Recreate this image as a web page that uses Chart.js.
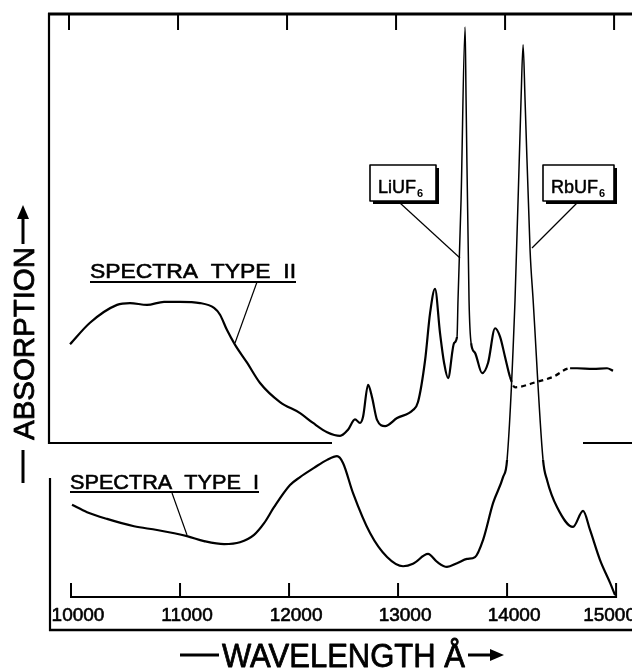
<!DOCTYPE html>
<html>
<head>
<meta charset="utf-8">
<script src="https://cdn.jsdelivr.net/npm/chart.js@4.4.1/dist/chart.umd.min.js"></script>
<style>
  html, body { margin: 0; padding: 0; background: #fff; }
  #marco { width: 632px; height: 668px; }
</style>
</head>
<body>
<div id="marco"><canvas id="espectroChart" width="632" height="668"></canvas></div>
<script>
// Datos: longitud de onda (Å) y absorción (unidades arbitrarias)
var tipoDosLongitud = [9991, 10174, 10422, 10541, 10697, 10853, 11000, 11183, 11312, 11367, 11431, 11505, 11615, 11734, 11917, 12101, 12220, 12349, 12468, 12541, 12605, 12651, 12679, 12725, 12761, 12807, 12881, 12991, 13137, 13183, 13248, 13294, 13339, 13385, 13422, 13459, 13514, 13541, 13550, 13578, 13615, 13624, 13651, 13670, 13706, 13771, 13826, 13890, 13936, 13982, 14027, 14073, 14275, 14422, 14578, 14642, 14789, 14917, 14972];
var tipoDosAbsorcion = [46.3, 49.8, 52.7, 53.0, 52.7, 53.2, 53.2, 53.0, 52.2, 51.1, 48.6, 46.2, 43.3, 40.0, 36.9, 35.1, 33.5, 32.0, 31.4, 32.4, 34.1, 33.5, 34.5, 39.7, 37.7, 34.0, 33.0, 34.3, 35.6, 36.9, 43.7, 51.4, 55.3, 48.1, 43.3, 40.8, 46.5, 47.5, 53.5, 69.8, 97.9, 86.0, 53.5, 46.5, 44.9, 41.6, 43.3, 48.9, 47.5, 44.2, 41.0, 39.3, 40.2, 41.0, 42.4, 42.4, 42.3, 42.4, 42.0];

var tipoUnoLongitud = [10009, 10147, 10330, 10578, 10789, 11064, 11220, 11404, 11550, 11679, 11771, 11862, 12009, 12101, 12229, 12349, 12440, 12495, 12587, 12743, 12899, 13046, 13137, 13275, 13358, 13449, 13541, 13633, 13706, 13780, 13872, 13963, 14000, 14073, 14128, 14147, 14165, 14211, 14239, 14330, 14367, 14459, 14605, 14697, 14761, 14853, 14945, 14991];
var tipoUnoAbsorcion = [20.2, 19.0, 17.9, 16.7, 16.1, 15.1, 14.3, 13.8, 14.1, 15.3, 17.2, 19.8, 23.4, 24.7, 26.2, 27.5, 28.1, 27.0, 22.1, 15.6, 11.7, 10.2, 10.6, 12.2, 10.9, 10.1, 10.7, 11.4, 11.7, 14.5, 20.5, 24.7, 27.5, 53.5, 86.0, 95.0, 86.0, 61.6, 53.5, 27.5, 24.2, 19.8, 16.6, 19.2, 16.1, 11.2, 7.5, 5.5];

// Marcas del eje de longitud de onda
var marcasEje = [10000, 11000, 12000, 13000, 14000, 15000];
var etiquetasEje = ['10000', '11000', '12000', '13000', '14000', '15000'];

// Tramos con estilo especial (punteado y picos finos)
var tramoPunteado = [14027, 14578];
var picoLi = [13541, 13670];
var picoRb = [14000, 14330];

function puntos(xs, ys) {
    return xs.map(function(x, i) { return { x: x, y: ys[i] }; });
}

function dentro(c, rango) {
    return c.p0.parsed.x >= rango[0] && c.p1.parsed.x <= rango[1];
}

function linea(ctx, x1, y1, x2, y2, ancho) {
    ctx.lineWidth = ancho;
    ctx.beginPath();
    ctx.moveTo(x1, y1);
    ctx.lineTo(x2, y2);
    ctx.stroke();
}

// texto con un trazo fino para que se vea como rotulado a plumilla
function texto(ctx, t, x, y, grosor) {
    ctx.fillText(t, x, y);
    ctx.lineWidth = grosor;
    ctx.strokeText(t, x, y);
}

function textoAjustado(ctx, t, x, y, ancho, grosor) {
    var w = ctx.measureText(t).width;
    ctx.save();
    ctx.translate(x, y);
    ctx.scale(ancho / w, 1);
    ctx.textAlign = 'left';
    texto(ctx, t, 0, 0, grosor);
    ctx.restore();
}

function caja(ctx, x, y, w, h, t) {
    ctx.fillStyle = '#fff';
    ctx.fillRect(x, y, w, h);
    ctx.fillStyle = '#000';
    ctx.lineWidth = 1.6;
    ctx.strokeRect(x, y, w, h);
    // sombra a la derecha y abajo
    linea(ctx, x + w + 1.5, y + 3, x + w + 1.5, y + h + 3, 3);
    linea(ctx, x + 3, y + h + 1.5, x + w + 3, y + h + 1.5, 3);
    ctx.font = '18px "Liberation Sans"';
    ctx.textAlign = 'left';
    texto(ctx, t, x + 8, y + 28, 0.5);
    var w1 = ctx.measureText(t).width;
    ctx.font = 'bold 11px "Liberation Sans"';
    ctx.fillText('6', x + 9 + w1, y + 32);
}

function flecha(ctx, x1, y1, x2, y2) {
    // punta triangular en (x2, y2)
    var ang = Math.atan2(y2 - y1, x2 - x1);
    ctx.beginPath();
    ctx.moveTo(x2, y2);
    ctx.lineTo(x2 - 14 * Math.cos(ang) + 6 * Math.sin(ang), y2 - 14 * Math.sin(ang) - 6 * Math.cos(ang));
    ctx.lineTo(x2 - 14 * Math.cos(ang) - 6 * Math.sin(ang), y2 - 14 * Math.sin(ang) + 6 * Math.cos(ang));
    ctx.closePath();
    ctx.fill();
    linea(ctx, x1, y1, x2 - 10 * Math.cos(ang), y2 - 10 * Math.sin(ang), 3);
}

// Marco, marcas, rótulos y leyendas dibujadas a mano
var decoracion = {
    id: 'decoracion',
    afterDraw: function(chart) {
        var ctx = chart.ctx;
        var ejeX = chart.scales.x;
        ctx.save();
        ctx.strokeStyle = '#000';
        ctx.fillStyle = '#000';
        ctx.lineJoin = 'round';

        // marco
        linea(ctx, 48, 14, 632, 14, 3);
        linea(ctx, 49, 13, 49, 444, 2.2);
        linea(ctx, 48, 443, 332, 443, 2.2);
        linea(ctx, 583, 443, 632, 443, 2.2);
        linea(ctx, 50, 478, 50, 631, 2.2);
        linea(ctx, 49, 630, 632, 630, 2.6);

        // eje inferior con marcas, marcas superiores
        var xa = ejeX.getPixelForValue(marcasEje[0]);
        var xb = ejeX.getPixelForValue(marcasEje[marcasEje.length - 1]);
        linea(ctx, xa, 597, xb, 597, 2.2);
        ctx.font = '19px "Liberation Sans"';
        ctx.textAlign = 'center';
        ctx.textBaseline = 'alphabetic';
        marcasEje.forEach(function(v, i) {
            var px = ejeX.getPixelForValue(v);
            linea(ctx, px - 2, 14, px - 2, 30, 2);
            linea(ctx, px, 583, px, 598, 2);
            var w = ctx.measureText(etiquetasEje[i]).width;
            var cx = px + 7;
            if (cx + w / 2 > 636) cx = 636 - w / 2;
            texto(ctx, etiquetasEje[i], cx, 621, 0.6);
        });

        // rótulos de las curvas
        ctx.font = '21px "Liberation Sans"';
        textoAjustado(ctx, 'SPECTRA  TYPE  II', 90, 278, 206, 0.6);
        linea(ctx, 90, 282, 296, 282, 1.8);
        linea(ctx, 257, 282, 235, 343, 1.2);
        textoAjustado(ctx, 'SPECTRA  TYPE  I', 70, 489, 189, 0.6);
        linea(ctx, 70, 492, 259, 492, 1.8);
        linea(ctx, 172, 493, 187, 535, 1.2);

        // cajas de los picos
        linea(ctx, 400, 203, 460, 258, 1.2);
        linea(ctx, 577, 203, 532, 248, 1.2);
        caja(ctx, 370, 165, 66, 36, 'LiUF');
        caja(ctx, 543, 165, 71, 36, 'RbUF');

        // título eje x
        ctx.font = '33px "Liberation Sans"';
        textoAjustado(ctx, 'WAVELENGTH Å', 222, 667, 243, 0.8);
        linea(ctx, 180, 655, 219, 655, 3);
        flecha(ctx, 468, 655, 504, 655);

        // título eje y
        ctx.save();
        ctx.translate(34, 440);
        ctx.rotate(-Math.PI / 2);
        ctx.font = '29px "Liberation Sans"';
        textoAjustado(ctx, 'ABSORPTION', 0, 0, 193, 0.8);
        ctx.restore();
        linea(ctx, 23, 450, 23, 483, 3);
        flecha(ctx, 23, 244, 23, 205);

        ctx.restore();
    }
};

var ctxEspectro = document.getElementById('espectroChart').getContext('2d');
var espectroChart = new Chart(ctxEspectro, {
    type: 'line',
    data: {
        datasets: [{
            label: 'Spectra Type II',
            data: puntos(tipoDosLongitud, tipoDosAbsorcion),
            borderColor: '#000',
            borderWidth: 2.2,
            fill: false,
            pointRadius: 0,
            cubicInterpolationMode: 'monotone',
            segment: {
                borderDash: function(c) { return dentro(c, tramoPunteado) ? [5, 4] : undefined; },
                borderWidth: function(c) { return dentro(c, picoLi) ? 1.5 : undefined; }
            }
        }, {
            label: 'Spectra Type I',
            data: puntos(tipoUnoLongitud, tipoUnoAbsorcion),
            borderColor: '#000',
            borderWidth: 2.2,
            fill: false,
            pointRadius: 0,
            cubicInterpolationMode: 'monotone',
            segment: {
                borderWidth: function(c) { return dentro(c, picoRb) ? 1.5 : undefined; }
            }
        }]
    },
    options: {
        responsive: false,
        animation: false,
        layout: { padding: { left: 49, top: 14, right: 0, bottom: 39 } },
        plugins: {
            legend: { display: false },
            tooltip: { enabled: false }
        },
        scales: {
            x: { type: 'linear', min: 9798, max: 15146, display: false },
            y: { min: 0, max: 100, display: false }
        }
    },
    plugins: [decoracion]
});
</script>
</body>
</html>
